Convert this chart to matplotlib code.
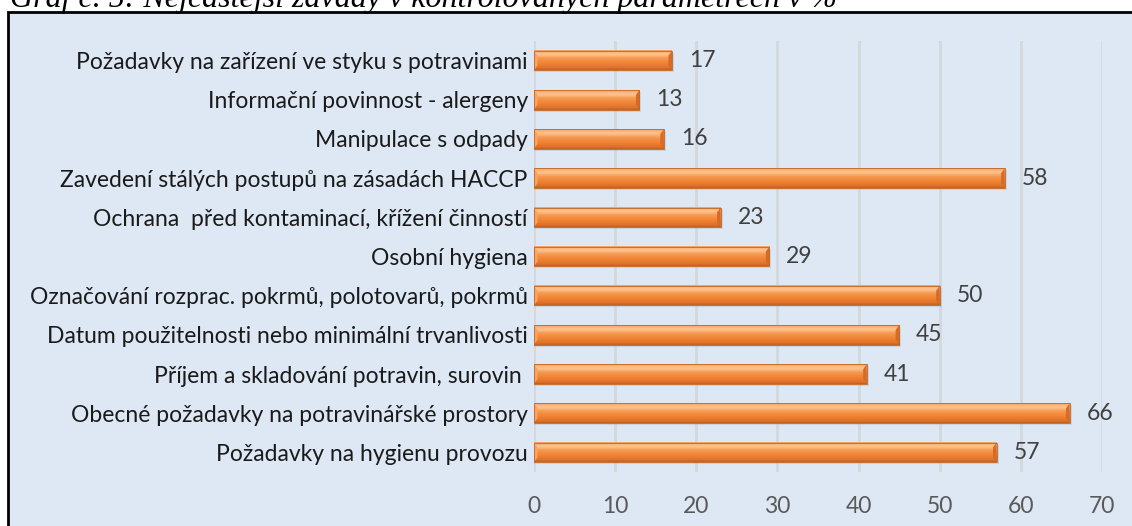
import matplotlib
matplotlib.use("Agg")
import matplotlib.pyplot as plt
import numpy as np
from matplotlib.colors import LinearSegmentedColormap
from matplotlib.patches import Rectangle, Polygon

# data, top to bottom as shown in the chart
categories = [
    "Požadavky na zařízení ve styku s potravinami",
    "Informační povinnost - alergeny",
    "Manipulace s odpady",
    "Zavedení stálých postupů na zásadách HACCP",
    "Ochrana  před kontaminací, křížení činností",
    "Osobní hygiena",
    "Označování rozprac. pokrmů, polotovarů, pokrmů",
    "Datum použitelnosti nebo minimální trvanlivosti",
    "Příjem a skladování potravin, surovin ",
    "Obecné požadavky na potravinářské prostory",
    "Požadavky na hygienu provozu",
]
values = [17, 13, 16, 58, 23, 29, 50, 45, 41, 66, 57]
xticks = [0, 10, 20, 30, 40, 50, 60, 70]
title = "Graf č. 5: Nejčastější závady v kontrolovaných parametrech v %"

W, H = 1132, 526
fig = plt.figure(figsize=(W / 100, H / 100), dpi=100)
fig.patch.set_facecolor("white")

# light blue chart area with black frame (right and bottom run off the page)
box = Rectangle((8 / W, -0.05), 1.1, 1 - 12 / H + 0.05, transform=fig.transFigure,
                facecolor="#dde8f4", edgecolor="black", linewidth=2, zorder=-1)
fig.patches.append(box)

fig.text(10 / W, 1 - 7 / H, title, family="Liberation Serif", style="italic",
         fontsize=23, va="baseline", ha="left", color="black")

ax = fig.add_axes([534 / W, 1 - 472 / H, (1102 - 534) / W, (472 - 41) / H], zorder=2)
ax.set_facecolor("none")
for s in ax.spines.values():
    s.set_visible(False)

n = len(categories)
ypos = np.arange(n)[::-1]
bh = 0.5

# vertical shading of the 3d bars (bottom -> top)
grad = LinearSegmentedColormap.from_list("bar", [
    (0.0, "#c0601f"), (0.1, "#e0712a"), (0.35, "#f08434"),
    (0.6, "#f69a52"), (0.78, "#fdc490"), (0.9, "#fbb57c"), (1.0, "#f3a065")])
g = np.linspace(0, 1, 64).reshape(-1, 1)

px = 70 / (1102 - 534)  # data units per pixel in x
fs = 16.5
for y, v in zip(ypos, values):
    # soft shadow under the bar
    ax.add_patch(Rectangle((0, y - bh / 2 - 0.05), v + 2 * px, bh, facecolor="#9aa5b1",
                           alpha=0.3, edgecolor="none", zorder=2))
    ax.imshow(g, cmap=grad, aspect="auto", origin="lower",
              extent=(0, v, y - bh / 2, y + bh / 2), zorder=3, interpolation="bilinear")
    # bevel ends
    bw = 3.5 * px
    ax.add_patch(Polygon([(0, y - bh / 2), (bw, y - bh / 4), (bw, y + bh / 4), (0, y + bh / 2)],
                         facecolor="#f8a466", edgecolor="none", zorder=4))
    ax.add_patch(Polygon([(v, y - bh / 2), (v - bw, y - bh / 4), (v - bw, y + bh / 4), (v, y + bh / 2)],
                         facecolor="#d66a26", edgecolor="none", zorder=4))
    ax.add_patch(Rectangle((0, y - bh / 2), v, bh, facecolor="none",
                           edgecolor="#c0651f", linewidth=0.6, zorder=5))
    ax.text(v + 17 * px, y, str(v), va="center", ha="left", fontsize=fs,
            family="Lato", color="#404040")

ax.set_xlim(0, 70)
ax.set_ylim(-0.5, n - 0.5)
ax.set_xticks(xticks)
ax.set_xticklabels([str(t) for t in xticks], family="Lato", fontsize=fs, color="#595959")
ax.set_yticks(ypos)
ax.set_yticklabels(categories, family="Lato", fontsize=fs, color="#1a1a1a")
ax.tick_params(axis="both", length=0)
ax.tick_params(axis="x", pad=17)
ax.tick_params(axis="y", pad=4.5)
ax.grid(axis="x", color="#d4d8dc", linewidth=2)
ax.set_axisbelow(True)

fig.savefig("out.png", dpi=100)
